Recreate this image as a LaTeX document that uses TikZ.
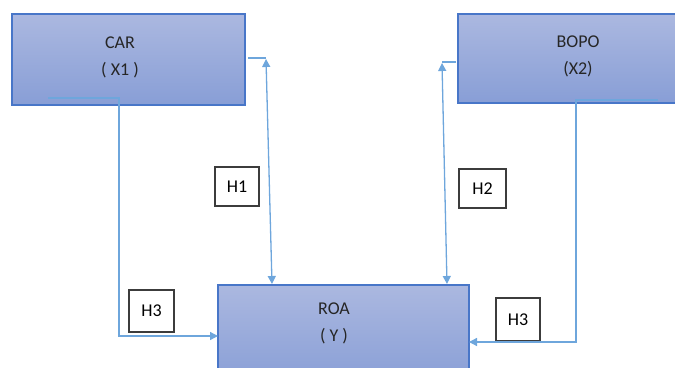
\documentclass[tikz,border=0pt]{standalone}
\usepackage{fontspec}
\setmainfont{Carlito}
\usetikzlibrary{arrows.meta}
\definecolor{boxtop}{RGB}{171,184,224}
\definecolor{boxbot}{RGB}{136,158,214}
\definecolor{boxline}{RGB}{72,118,200}
\definecolor{linkcol}{RGB}{110,166,220}
\definecolor{hline}{RGB}{60,60,60}
\begin{document}
\begin{tikzpicture}[x=1pt, y=-1pt, line width=1.4pt]
	\tikzstyle{block} = [draw=boxline, top color=boxtop, bottom color=boxbot, inner sep=0pt]
	\tikzstyle{hbox} = [draw=hline, fill=white, line width=1.1pt, inner sep=0pt, font=\fontsize{18}{20}\selectfont]
	\tikzstyle{link} = [draw=linkcol, line width=1.3pt, -{Triangle[length=8pt,width=8pt]}]
	\tikzstyle{txt} = [align=center, font=\fontsize{18}{27}\selectfont, text=black!85]
	\useasboundingbox (0,0) rectangle (675,367);
	\clip (0,0) rectangle (675,367);
	% variables
	\node[block, minimum width=233pt, minimum height=91pt](CAR) at (128.5,59.5) {};
	\node[block, minimum width=232pt, minimum height=89pt](BOPO) at (574,58.5) {};
	\node[block, minimum width=251pt, minimum height=100pt](ROA) at (343.5,335) {};
	\node[txt](cartxt) at (120,57) {CAR\\( X1 )};
	\node[txt](bopotxt) at (578,56) {BOPO\\(X2)};
	\node[txt](roatxt) at (334,323) {ROA\\( Y )};
	% hypotheses
	\node[hbox, minimum width=44pt, minimum height=39pt](H1) at (237,186.5) {H1};
	\node[hbox, minimum width=47pt, minimum height=39pt](H2) at (482.5,188.5) {H2};
	\node[hbox, minimum width=45pt, minimum height=42pt](H3a) at (151.5,311) {H3};
	\node[hbox, minimum width=44pt, minimum height=43pt](H3b) at (518,319.5) {H3};
	% connector ends
	\coordinate (carout) at (48,98);
	\coordinate (roainl) at (218,336);
	\coordinate (carstub) at (248,58);
	\coordinate (h1top) at (266,59);
	\coordinate (h1bot) at (272,284);
	\coordinate (bopostub) at (456,62);
	\coordinate (h2top) at (442,63);
	\coordinate (h2bot) at (447,284);
	\coordinate (bopoout) at (658,100);
	\coordinate (roainr) at (469,342);
	% connectors
	\draw[link] (carout) -- ++(71,0) |- (roainl);
	\draw[draw=linkcol, line width=1.3pt] (carstub) -- (h1top |- carstub);
	\draw[link, {Triangle[length=8pt,width=8pt]}-{Triangle[length=8pt,width=8pt]}] (h1top) -- (h1bot);
	\draw[draw=linkcol, line width=1.3pt] (bopostub) -- (h2top |- bopostub);
	\draw[link, {Triangle[length=8pt,width=8pt]}-{Triangle[length=8pt,width=8pt]}] (h2top) -- (h2bot);
	\draw[link] (bopoout) -- ++(-82,0) |- (roainr);
\end{tikzpicture}
\end{document}
